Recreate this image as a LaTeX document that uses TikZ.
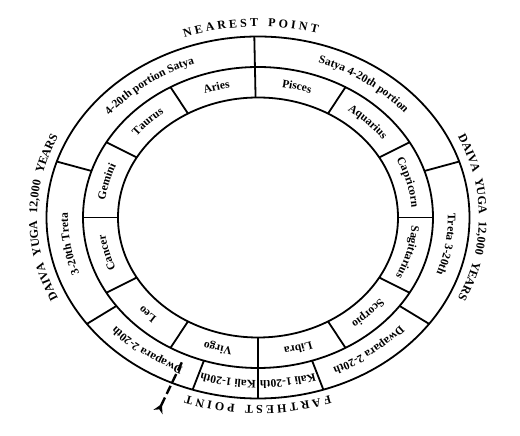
\documentclass[tikz,border=0pt]{standalone}
\usepackage{fontspec}
\setmainfont{Liberation Serif}[UprightFont={* Bold}]
\usetikzlibrary{decorations.text,arrows.meta,calc}
\newcommand\lblfont{\fontsize{11.5}{13}\selectfont}
\newcommand\capfont{\fontsize{12}{14}\selectfont}
\tikzset{
  ring/.style={line width=1.8pt},
  divider/.style={line width=1.8pt},
  curvetext/.style 2 args={decorate,decoration={text along path,text align=center,text={|#1|#2}}},
  pointer/.style={line width=2.4pt,dash pattern=on 9pt off 4pt},
}
\newcommand\curvelabel[6]{%
  \path[curvetext={#1}{#6}] (C) ++(#4:#2pt and #3pt)
    arc[start angle=#4,end angle=#5,x radius=#2pt,y radius=#3pt];}
\begin{document}
\begin{tikzpicture}[x=1pt,y=1pt]
\useasboundingbox (0,0) rectangle (520,436);
\coordinate (C) at (258,218.5);
% rings
\draw[ring] (C) ellipse[x radius=211.5pt,y radius=181pt];
\draw[ring] (C) ellipse[x radius=175pt,y radius=150.5pt];
\draw[ring] (C) ellipse[x radius=140pt,y radius=120pt];
% zodiac dividers
\foreach \t in {0,30,60,91,120,150,180,210,240,270,300,330}{
  \path (C) ++(\t:140pt and 120pt) coordinate (zi) (C) ++(\t:175pt and 150.5pt) coordinate (zo);
  \draw[divider] (zi) -- (zo);
}
% yuga dividers
\foreach \t in {91,18,-36,-72,-90,-108,-144,162}{
  \path (C) ++(\t:175pt and 150.5pt) coordinate (yi) (C) ++(\t:211.5pt and 181pt) coordinate (yo);
  \draw[divider] (yi) -- (yo);
}
% zodiac labels
\curvelabel{\lblfont}{154}{132}{120}{91}{Aries}
\curvelabel{\lblfont}{154}{132}{91}{60}{Pisces}
\curvelabel{\lblfont}{154}{132}{60}{30}{Aquarius}
\curvelabel{\lblfont}{154}{132}{30}{0}{Capricorn}
\curvelabel{\lblfont}{154}{132}{0}{-30}{Sagittarius}
\curvelabel{\lblfont}{154}{132}{-30}{-60}{Scorpio}
\curvelabel{\lblfont}{154}{132}{-60}{-90}{Libra}
\curvelabel{\lblfont}{154}{132}{270}{240}{Virgo}
\curvelabel{\lblfont}{154}{132}{240}{210}{Leo}
\curvelabel{\lblfont}{154}{132}{210}{180}{Cancer}
\curvelabel{\lblfont}{154}{132}{180}{150}{Gemini}
\curvelabel{\lblfont}{154}{132}{150}{120}{Taurus}
% yuga labels
\curvelabel{\lblfont}{190}{163}{162}{91}{4-20th portion Satya}
\curvelabel{\lblfont}{190}{163}{91}{18}{Satya 4-20th portion}
\curvelabel{\lblfont}{190}{163}{18}{-36}{Treta 3-20th}
\curvelabel{\lblfont}{190}{163}{-36}{-72}{Dwapara 2-20th}
\curvelabel{\lblfont}{190}{163}{-72}{-90}{Kali 1-20th}
\curvelabel{\lblfont}{190}{163}{270}{252}{Kali 1-20th}
\curvelabel{\lblfont}{190}{163}{252}{216}{Dwapara 2-20th}
\curvelabel{\lblfont}{190}{163}{216}{162}{3-20th Treta}
% outer labels
\curvelabel{\capfont}{221}{191}{132}{52}{N E A R E S T{\kern10pt}P O I N T}
\curvelabel{\capfont}{221}{188}{310}{230}{F A R T H E S T{\kern10pt}P O I N T}
\curvelabel{\capfont}{221}{190}{235}{125}{DAIVA{\kern7pt}YUGA{\kern7pt}12,000{\kern7pt}YEARS}
\curvelabel{\capfont}{221}{190}{55}{-55}{DAIVA{\kern7pt}YUGA{\kern7pt}12,000{\kern7pt}YEARS}
% pointer
\coordinate (ptop) at (182,74);
\coordinate (pbottom) at (158,24);
\draw[pointer,{Stealth[reversed,length=9pt,width=10pt]}-] (pbottom) -- (ptop);
\end{tikzpicture}
\end{document}
